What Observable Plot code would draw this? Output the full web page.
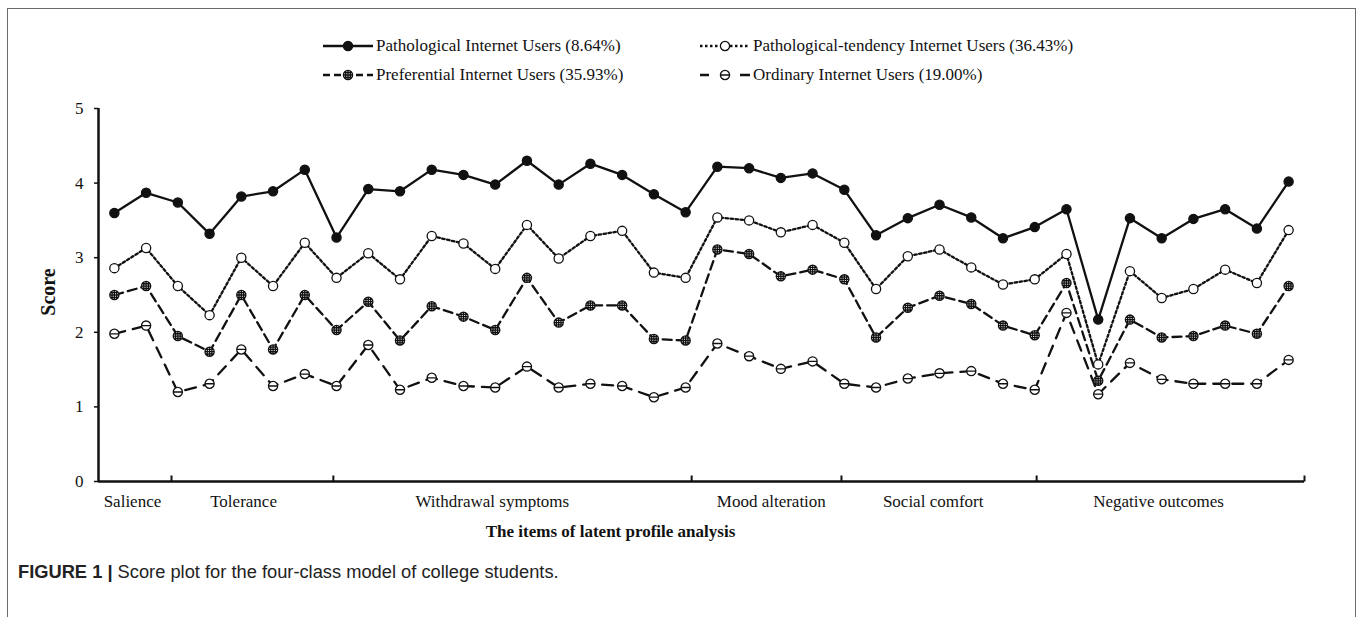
<!DOCTYPE html>
<html><head><meta charset="utf-8">
<script src="https://cdn.jsdelivr.net/npm/d3@7"></script>
<script src="https://cdn.jsdelivr.net/npm/@observablehq/plot@0.6"></script>
<style>
html,body{margin:0;padding:0;background:#fff;}
body{width:1358px;height:617px;overflow:hidden;position:relative;font-family:"Liberation Serif","Times New Roman",serif;}
#frame{position:absolute;left:7px;top:8px;width:1349px;height:640px;border:1.5px solid #6b6b6b;box-sizing:border-box;}
#chart{position:absolute;left:0;top:90px;}
.leg{position:absolute;display:flex;align-items:center;font-size:17px;color:#111;white-space:nowrap;height:20px;}
.leg svg{display:block;}
#caption{position:absolute;left:18px;top:561px;font-family:"Liberation Sans",Arial,sans-serif;font-size:18.3px;color:#222;white-space:nowrap;}
</style></head><body>
<div id="frame"></div>
<div id="legend"></div>
<div id="chart"></div>
<div id="caption"><b>FIGURE 1 |</b> Score plot for the four-class model of college students.</div>
<script>
// ---- data ----
const items = [1,2,3,4,5,6,7,8,9,10,11,12,13,14,15,16,17,18,19,20,21,22,23,24,25,26,27,28,29,30,31,32,33,34,35,36,37,38];
const seriesNames = [
  "Pathological Internet Users (8.64%)",
  "Pathological-tendency Internet Users (36.43%)",
  "Preferential Internet Users (35.93%)",
  "Ordinary Internet Users (19.00%)"
];
const pathological = [3.60,3.87,3.74,3.32,3.82,3.89,4.18,3.27,3.92,3.89,4.18,4.11,3.98,4.30,3.98,4.26,4.11,3.85,3.61,4.22,4.20,4.07,4.13,3.91,3.30,3.53,3.71,3.54,3.26,3.41,3.65,2.17,3.53,3.26,3.52,3.65,3.39,4.02];
const tendency     = [2.86,3.13,2.62,2.23,3.00,2.62,3.20,2.73,3.06,2.71,3.29,3.19,2.85,3.44,2.99,3.29,3.36,2.80,2.73,3.54,3.50,3.34,3.44,3.20,2.58,3.02,3.11,2.87,2.64,2.71,3.05,1.57,2.82,2.46,2.58,2.84,2.66,3.37];
const preferential = [2.50,2.62,1.95,1.74,2.50,1.77,2.50,2.03,2.41,1.89,2.35,2.21,2.03,2.73,2.13,2.36,2.36,1.91,1.89,3.11,3.05,2.75,2.84,2.71,1.93,2.33,2.49,2.38,2.09,1.96,2.66,1.35,2.17,1.93,1.95,2.09,1.98,2.62];
const ordinary     = [1.98,2.09,1.20,1.31,1.77,1.28,1.44,1.28,1.83,1.23,1.39,1.28,1.26,1.54,1.26,1.31,1.28,1.13,1.26,1.85,1.68,1.51,1.61,1.31,1.26,1.38,1.45,1.48,1.31,1.23,2.26,1.17,1.59,1.37,1.31,1.31,1.31,1.63];
const yTicks = [0,1,2,3,4,5];
const groupLabels = ["Salience","Tolerance","Withdrawal symptoms","Mood alteration","Social comfort","Negative outcomes"];
const groupLabelAt = [1.07,4.57,12.41,21.2,26.3,33.4];      // item-axis position of each label
const groupBounds = [2.3,7.4,18.69,23.41,29.56,38];          // item-axis position of group tick marks
const yTitle = "Score";
const xTitle = "The items of latent profile analysis";

// ---- symbols ----
const radiusOf = size => Math.sqrt(size / Math.PI);
const hatched = {draw(ctx, size){
  const r = radiusOf(size);
  ctx.moveTo(r,0); ctx.arc(0,0,r,0,2*Math.PI);
  ctx.moveTo(-r,0); ctx.lineTo(r,0);
  ctx.moveTo(0,-r); ctx.lineTo(0,r);
  const h = r*0.5, w = Math.sqrt(r*r-h*h);
  ctx.moveTo(-w,-h); ctx.lineTo(w,-h); ctx.moveTo(-w,h); ctx.lineTo(w,h);
  ctx.moveTo(-h,-w); ctx.lineTo(-h,w); ctx.moveTo(h,-w); ctx.lineTo(h,w);
}};
const barred = {draw(ctx, size){
  const r = radiusOf(size);
  ctx.moveTo(r,0); ctx.arc(0,0,r,0,2*Math.PI);
  ctx.moveTo(-r,0); ctx.lineTo(r,0);
}};
const tickUp = {draw(ctx){ ctx.moveTo(0,0); ctx.lineTo(0,-6); }};

const INK = "#111";
const styles = [
  {values: pathological, dash: null,      fill: INK,    symbol: d3.symbolCircle, legendDash: null},
  {values: tendency,     dash: "2.5,2.5", fill: "#fff", symbol: d3.symbolCircle, legendDash: "2.5,2.5"},
  {values: preferential, dash: "9,5",     fill: "#fff", symbol: hatched,         legendDash: "7,4"},
  {values: ordinary,     dash: "11,8",    fill: "#fff", symbol: barred,          legendDash: "9,31,10,10"}
];

const xOf = (d, i) => items[i] - 0.5;

const chart = Plot.plot({
  width: 1358, height: 460,
  marginLeft: 98, marginRight: 54, marginTop: 18, marginBottom: 69,
  style: {fontFamily: '"Liberation Serif","Times New Roman",serif', fontSize: "17px", color: INK, background: "transparent"},
  x: {domain: [0, items.length], axis: null},
  y: {domain: [yTicks[0], yTicks[yTicks.length-1]], axis: null},
  marks: [
    Plot.axisY(yTicks, {tickSize: 4, tickPadding: 11, strokeWidth: 1.5, label: null, fill: INK, tickFormat: d3.format("d")}),
    ...styles.map(s => Plot.line(s.values, {x: xOf, y: d => d, stroke: INK, strokeWidth: 2.3, strokeDasharray: s.dash})),
    ...styles.map(s => Plot.dot(s.values, {x: xOf, y: d => d, r: 4.6, symbol: s.symbol, fill: s.fill, stroke: INK, strokeWidth: 1.3})),
    Plot.ruleX([0], {y1: yTicks[0], y2: yTicks[yTicks.length-1], stroke: INK, strokeWidth: 2.5}),
    Plot.ruleY([yTicks[0]], {stroke: INK, strokeWidth: 2.5}),
    Plot.dot(groupBounds, {x: d => d, y: yTicks[0], symbol: tickUp, stroke: INK, strokeWidth: 2, r: 3}),
    Plot.text(groupLabels, {x: (d,i) => groupLabelAt[i], y: yTicks[0], dy: 20, fill: INK}),
    Plot.text([xTitle], {frameAnchor: "bottom", dx: -91, dy: 50, lineAnchor: "middle", fontWeight: "bold", fill: INK}),
    Plot.text([yTitle], {frameAnchor: "left", dx: -50, dy: -3, rotate: -90, textAnchor: "middle", lineAnchor: "middle", fontWeight: "bold", fontSize: 20, fill: INK})
  ]
});
document.getElementById("chart").appendChild(chart);

// ---- legend ----
const legendPos = [
  {left: 323, top: 36}, {left: 700, top: 36},
  {left: 323, top: 65}, {left: 700, top: 65}
];
const legend = document.getElementById("legend");
styles.forEach((s, i) => {
  const div = document.createElement("div");
  div.className = "leg";
  div.style.left = legendPos[i].left + "px";
  div.style.top = legendPos[i].top + "px";
  const svg = d3.create("svg").attr("width", 53).attr("height", 20);
  svg.append("line").attr("x1", 0).attr("x2", 50).attr("y1", 10).attr("y2", 10)
    .attr("stroke", INK).attr("stroke-width", 2.3).attr("stroke-dasharray", s.legendDash);
  svg.append("path").attr("transform", "translate(25,10)")
    .attr("d", d3.symbol(s.symbol, Math.PI * 4.6 * 4.6)())
    .attr("fill", s.fill).attr("stroke", INK).attr("stroke-width", 1.3);
  div.appendChild(svg.node());
  const span = document.createElement("span");
  span.textContent = seriesNames[i];
  div.appendChild(span);
  legend.appendChild(div);
});
</script>
</body></html>
